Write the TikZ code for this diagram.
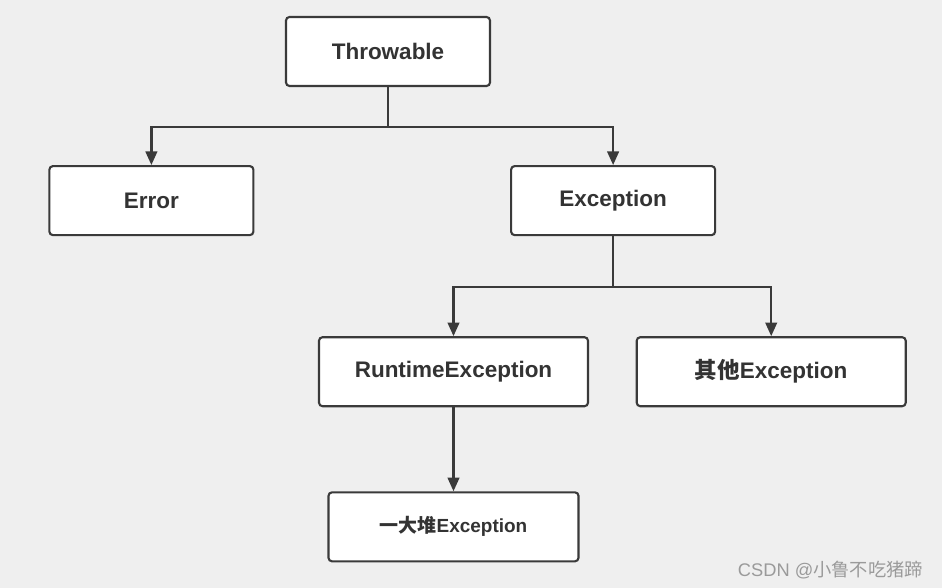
\documentclass[tikz,border=0pt]{standalone}
\usepackage{fontspec}
\setmainfont{Liberation Sans}
\newfontfamily\cjk{Noto Sans CJK SC}
\usepackage{xcolor}
\usetikzlibrary{positioning,arrows.meta}
\definecolor{bggray}{HTML}{EFEFEF}
\definecolor{linegray}{HTML}{3A3A3A}
\definecolor{textgray}{HTML}{333333}
\definecolor{markgray}{HTML}{9A9A9A}
\tikzset{
    classbox/.style={rectangle, draw=linegray, fill=white, line width=1.5pt, rounded corners=2.5pt,
        minimum width=5.1cm, minimum height=1.725cm, text=textgray, font=\fontsize{16}{18}\selectfont\bfseries},
    widebox/.style={classbox, minimum width=6.725cm},
    link/.style={draw=linegray, line width=1.6pt, -{Triangle[length=3.4mm,width=2.9mm]}}
}

\begin{document}
\begin{tikzpicture}
            \fill[bggray] (0,0) rectangle (23.55,-14.7);
            \useasboundingbox (0,0) rectangle (23.55,-14.7);
            \node[classbox] (throwable) at (9.7,-1.2875) {Throwable};
            \node[classbox, below left=1.95cm and 0.7625cm of throwable] (error) {Error};
            \node[classbox, below right=1.95cm and 0.475cm of throwable] (exception) {Exception};
            \node[widebox, below left=2.5cm and -1.975cm of exception] (runtime) {RuntimeException};
            \node[widebox, below right=2.5cm and -2.0125cm of exception] (other) {{\cjk 其他}Exception};
            \node[classbox, minimum width=6.25cm, font=\fontsize{13.5}{16}\selectfont\bfseries, below=2.1cm of runtime] (heap) {{\cjk 一大堆}Exception};
            \node[text=markgray, font=\fontsize{13}{15}\selectfont, anchor=east] (mark) at (23.2,-14.25) {CSDN @{\cjk 小鲁不吃猪蹄}};
            \draw[link] (throwable.south) -- ++(0,-1cm) -| (error.north);
            \draw[link] (throwable.south) -- ++(0,-1cm) -| (exception.north);
            \draw[link] (exception.south) -- ++(0,-1.275cm) -| (runtime.north);
            \draw[link] (exception.south) -- ++(0,-1.275cm) -| (other.north);
            \draw[link] (runtime) -- (heap);
        \end{tikzpicture}
\end{document}
